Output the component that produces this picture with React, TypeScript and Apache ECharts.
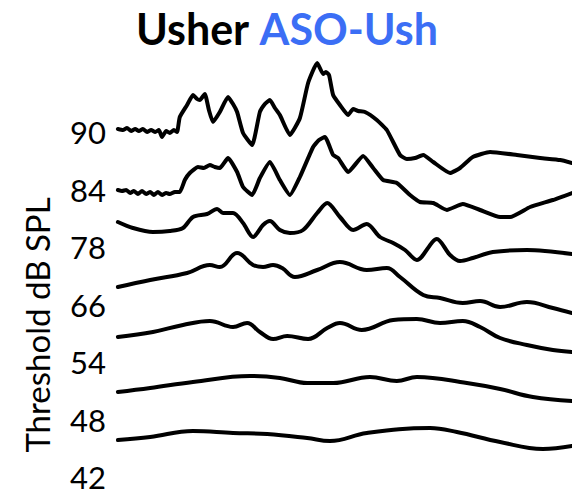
import React, { useEffect, useRef } from "react";
import * as echarts from "echarts";

// Threshold levels (dB SPL), top to bottom
const levels = ["90", "84", "78", "66", "54", "48", "42"];

// ABR traces: [time (ms), displayed amplitude (offset units)]
const trace90: [number, number][] = [
  [0.02, 351], [0.13, 350], [0.22, 352], [0.31, 349], [0.4, 351], [0.48, 349], [0.57, 351], [0.66, 348],
  [0.75, 350], [0.84, 348], [0.92, 350], [0.99, 343], [1.08, 349], [1.16, 347], [1.25, 350], [1.32, 348],
  [1.38, 363], [1.54, 375], [1.67, 385], [1.76, 381], [1.82, 380], [1.93, 386], [2.02, 370], [2.11, 358],
  [2.26, 368], [2.44, 383], [2.55, 376], [2.64, 368], [2.77, 347], [2.97, 335], [3.14, 368], [3.25, 376],
  [3.36, 380], [3.47, 372], [3.58, 365], [3.8, 345], [4.02, 362], [4.2, 397], [4.4, 417], [4.53, 406],
  [4.59, 408], [4.66, 405], [4.75, 385], [4.9, 375], [5.08, 365], [5.19, 371], [5.3, 369], [5.45, 368],
  [5.71, 360], [5.93, 350], [6.22, 325], [6.37, 321], [6.55, 322], [6.73, 325], [6.95, 318], [7.32, 307],
  [7.54, 312], [7.82, 323], [8.2, 328], [8.79, 325], [9.3, 322], [9.74, 320], [10.0, 317],
];
const trace84: [number, number][] = [
  [0.02, 290], [0.11, 289], [0.2, 290], [0.29, 287], [0.37, 289], [0.46, 286], [0.55, 289], [0.64, 286],
  [0.73, 288], [0.81, 285], [0.9, 288], [0.99, 285], [1.08, 287], [1.16, 286], [1.27, 288], [1.38, 288],
  [1.49, 300], [1.6, 307], [1.78, 313], [1.91, 312], [2.04, 315], [2.15, 313], [2.26, 312], [2.44, 322],
  [2.64, 308], [2.77, 293], [2.97, 285], [3.14, 302], [3.36, 318], [3.58, 300], [3.8, 285], [4.02, 303],
  [4.31, 333], [4.44, 340], [4.57, 343], [4.75, 325], [4.86, 322], [5.08, 308], [5.41, 324], [5.63, 312],
  [5.85, 300], [6.15, 297], [6.44, 285], [6.66, 278], [6.95, 277], [7.25, 270], [7.6, 276], [7.98, 270],
  [8.42, 263], [8.64, 263], [9.08, 273], [9.58, 280], [10.0, 287],
];
const trace78: [number, number][] = [
  [0.02, 258], [0.35, 252], [0.79, 248], [1.16, 249], [1.45, 252], [1.67, 263], [1.98, 266], [2.2, 271],
  [2.33, 267], [2.55, 267], [2.77, 257], [2.99, 243], [3.21, 255], [3.36, 259], [3.58, 250], [3.8, 247],
  [4.09, 250], [4.4, 267], [4.62, 277], [4.9, 263], [5.19, 250], [5.49, 256], [5.78, 243], [6.07, 237],
  [6.33, 230], [6.59, 220], [7.03, 241], [7.32, 225], [7.54, 219], [7.82, 222], [8.26, 228], [9.01, 230],
  [10.0, 226],
];
const trace66: [number, number][] = [
  [0.02, 193], [0.73, 200], [1.54, 207], [2.04, 215], [2.26, 213], [2.64, 227], [2.99, 215], [3.21, 213],
  [3.43, 215], [3.63, 212], [3.91, 203], [4.4, 210], [4.9, 218], [5.49, 210], [5.93, 212], [6.22, 203],
  [6.73, 185], [7.1, 182], [7.6, 177], [7.98, 179], [8.42, 173], [9.01, 178], [9.58, 172], [10.0, 167],
];
const trace54: [number, number][] = [
  [0.02, 143], [0.79, 148], [1.45, 155], [2.04, 159], [2.55, 153], [2.86, 157], [3.14, 148], [3.43, 141],
  [3.74, 144], [4.2, 141], [4.62, 152], [4.9, 157], [5.38, 150], [6.07, 160], [6.59, 161], [7.1, 157],
  [7.6, 159], [7.98, 153], [8.42, 142], [9.01, 135], [9.58, 130], [10.0, 128],
];
const trace48: [number, number][] = [
  [0.02, 88], [0.73, 92], [1.67, 98], [2.92, 104], [3.58, 102], [4.18, 97], [4.75, 97], [5.56, 103],
  [6.15, 99], [6.59, 103], [7.69, 97], [8.42, 91], [9.14, 83], [10.0, 79],
];
const trace42: [number, number][] = [
  [0.02, 40], [0.73, 43], [1.67, 49], [2.55, 47], [3.3, 46], [4.18, 42], [4.68, 39], [5.49, 47],
  [6.88, 52], [7.47, 48], [8.42, 38], [9.36, 31], [10.0, 34],
];

const traces = [trace90, trace84, trace78, trace66, trace54, trace48, trace42];
const smoothness = [0.15, 0.15, 0.3, 0.4, 0.4, 0.4, 0.4];
const labelStep = 57.5;

export default function App() {
  const ref = useRef<HTMLDivElement>(null);
  useEffect(() => {
    document.body.style.margin = "0";
    const chart = echarts.init(ref.current!, null, { renderer: "svg" });
    const levelsBottomUp = [...levels].reverse();
    chart.setOption({
      animation: false,
      backgroundColor: "#fff",
      title: {
        text: "{a|Usher }{b|ASO-Ush}",
        left: 131,
        top: 2,
        textStyle: {
          rich: {
            a: { fontFamily: "Lato", fontWeight: "bold", fontSize: 43, color: "#000" },
            b: { fontFamily: "Lato", fontWeight: "bold", fontSize: 43, color: "#3B6EF5" },
          },
        },
      },
      graphic: [
        {
          type: "text",
          x: 37,
          y: 325,
          rotation: Math.PI / 2,
          style: {
            text: "Threshold dB SPL",
            font: "33px Lato",
            fill: "#000",
            align: "center",
            verticalAlign: "middle",
          },
        },
      ],
      grid: { left: 117, right: 0, top: 40, bottom: 18 },
      xAxis: { type: "value", min: 0, max: 10, show: false },
      yAxis: [
        {
          type: "value",
          min: 0,
          max: 437,
          interval: labelStep,
          axisLine: { show: false },
          axisTick: { show: false },
          splitLine: { show: false },
          axisLabel: {
            fontFamily: "Lato",
            fontSize: 31,
            lineHeight: 26,
            color: "#000",
            margin: 11,
            showMaxLabel: false,
            formatter: (v: number) => {
              const i = Math.round(v / labelStep);
              return Math.abs(v - i * labelStep) < 0.5 && i < levelsBottomUp.length ? levelsBottomUp[i] : "";
            },
          },
        },
        { type: "value", min: 3, max: 440, show: false },
      ],
      series: traces.map((d, i) => ({
        type: "line",
        name: levels[i] + " dB",
        yAxisIndex: 1,
        data: d,
        showSymbol: false,
        smooth: smoothness[i],
        lineStyle: { color: "#000", width: 4, cap: "round", join: "round" },
      })),
    });
    return () => chart.dispose();
  }, []);
  return <div ref={ref} style={{ width: 572, height: 495 }} />;
}
